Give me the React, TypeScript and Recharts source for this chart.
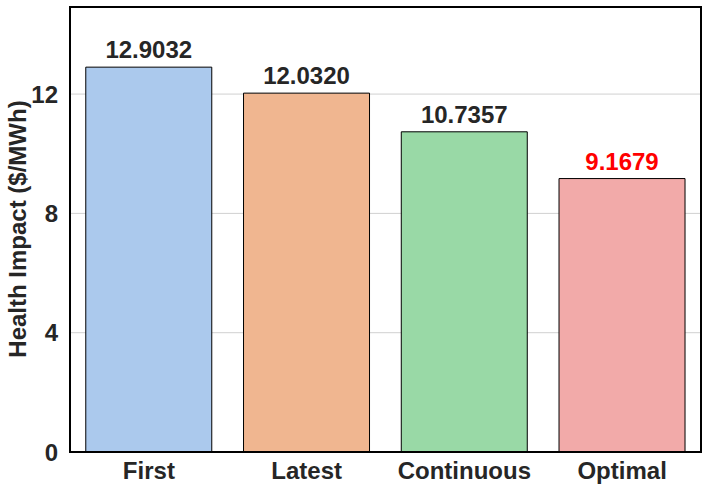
import { Bar, BarChart, CartesianGrid, Cell, LabelList, XAxis, YAxis } from "recharts";

const categories = ["First", "Latest", "Continuous", "Optimal"];
const impacts = [12.9032, 12.032, 10.7357, 9.1679];
const yTicks = [0, 4, 8, 12];

const barColors = ["#abc9ed", "#f0b690", "#99d9a6", "#f2aaa9"];
const labelColors = ["#262626", "#262626", "#262626", "#ff0000"];

const data = categories.map((name, i) => ({ name, value: impacts[i] }));

const FONT = "'Liberation Sans', Arial, sans-serif";

const ValueLabel = (props: any) => {
  const { x, y, width, index, value } = props;
  return (
    <text
      x={x + width / 2}
      y={y - 9}
      textAnchor="middle"
      fontFamily={FONT}
      fontWeight="bold"
      fontSize={24}
      fill={labelColors[index]}
    >
      {Number(value).toFixed(4)}
    </text>
  );
};

// rotated y title, baseline kept just right of the page edge
const YTitle = () => (
  <text
    x={26}
    y={229}
    transform="rotate(-90 26 229)"
    textAnchor="middle"
    fontFamily={FONT}
    fontWeight="bold"
    fontSize={24}
    fill="#262626"
  >
    Health Impact ($/MWh)
  </text>
);

export default function App() {
  return (
    <div style={{ position: "absolute", left: 0, top: 0, width: 708, height: 492, background: "#fff" }}>
      <BarChart
        width={708}
        height={492}
        data={data}
        margin={{ top: 7, right: 7, left: 0, bottom: 0 }}
        barCategoryGap="10%"
      >
        <CartesianGrid vertical={false} stroke="#d0d0d0" strokeWidth={1} />
        <XAxis
          dataKey="name"
          height={40}
          axisLine={false}
          tickLine={false}
          tick={{ fontFamily: FONT, fontWeight: "bold", fontSize: 24, fill: "#262626" }}
          tickMargin={4}
        />
        <YAxis
          width={70}
          domain={[0, 14.92]}
          ticks={yTicks}
          axisLine={false}
          tickLine={false}
          tick={{ fontFamily: FONT, fontWeight: "bold", fontSize: 24, fill: "#262626" }}
          tickMargin={6}
          label={<YTitle />}
        />
        <Bar dataKey="value" stroke="#000" strokeWidth={1} isAnimationActive={false}>
          {data.map((d, i) => (
            <Cell key={d.name} fill={barColors[i]} />
          ))}
          <LabelList dataKey="value" content={ValueLabel} />
        </Bar>
      </BarChart>
      <div
        style={{
          position: "absolute",
          left: 69,
          top: 6,
          width: 633,
          height: 447,
          boxSizing: "border-box",
          border: "2px solid #000",
          pointerEvents: "none",
        }}
      />
    </div>
  );
}
